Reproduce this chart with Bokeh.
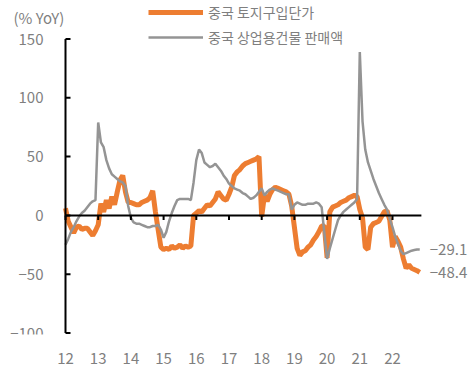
from bokeh.plotting import figure
from bokeh.models import (ColumnDataSource, FixedTicker, Legend, LegendItem, Label)
from bokeh.core.properties import value
from bokeh.embed import file_html
from bokeh.resources import INLINE

# Monthly data, Jan 2012 - Nov 2022 (% YoY)
land_price = [
    # 2012
    6, -5, -10, -15, -10, -9, -12, -11, -11, -14, -17, -13,
    # 2013
    -8, 10, 3, 13, 6, 16, 9, 20, 30, 34, 20, 11,
    # 2014
    11, 10, 9, 9, 11, 12, 13, 15, 21, 3, -12, -27,
    # 2015
    -29, -28, -29, -26, -28, -27, -25, -28, -26, -27, -26, 0,
    # 2016
    2, 4, 3, 6, 9, 8, 11, 14, 20, 17, 14, 13,
    # 2017
    18, 24, 34, 37, 39, 42, 44, 45, 46, 47, 48, 50,
    # 2018
    -1, 17, 12, 18, 22, 24, 23, 22, 21, 20, 18, 8,
    # 2019
    -10, -28, -34, -31, -30, -27, -25, -21, -18, -14, -9, -9,
    # 2020
    -36, 3, 7, 8, 9, 11, 12, 13, 15, 16, 17, 16,
    # 2021
    5, -2, -27, -29, -10, -7, -6, -5, -1, 3, 4, -4,
    # 2022
    -27, -18, -22, -27, -37, -45, -42, -45, -46, -47, -48.4,
]
commercial_sales = [
    # 2012
    -25, -20, -14, -10, -5, -1, 2, 4, 7, 10, 12, 13,
    # 2013
    79, 62, 58, 47, 40, 35, 33, 31, 29, 28, 25, 8,
    # 2014
    -2, -6, -7, -7, -8, -9, -10, -10, -9, -9, -8, -12,
    # 2015
    -19, -14, -5, 2, 8, 13, 14, 14, 14, 14, 13, 28,
    # 2016
    47, 56, 53, 45, 43, 41, 42, 44, 41, 38, 34, 31,
    # 2017
    27, 25, 23, 22, 21, 19, 18, 16, 14, 15, 17, 20,
    # 2018
    23, 17, 20, 22, 23, 22, 21, 20, 19, 18, 18, 5,
    # 2019
    9, 11, 10, 9, 9, 10, 10, 10, 11, 10, 7, -15,
    # 2020
    -37, -28, -20, -12, -4, 0, 3, 5, 7, 9, 11, 14,
    # 2021
    139, 80, 56, 45, 38, 31, 25, 19, 14, 9, 5, -3,
    # 2022
    -10, -18, -24, -30, -33, -32, -31, -30, -29.5, -29, -29.1,
]
tick_years = [2012, 2013, 2014, 2015, 2016, 2017, 2018, 2019, 2020, 2021, 2022]
tick_labels = ["12", "13", "14", "15", "16", "17", "18", "19", "20", "21", "22"]
y_ticks = [-100, -50, 0, 50, 100, 150]
series_names = ["중국 토지구입단가", "중국 상업용건물 판매액"]
unit_label = "(% YoY)"

start_year = 2012
n = len(land_price)
t = [start_year + i / 12 for i in range(n)]

ORANGE = "#ED7D31"
GRAY = "#949494"
TEXT = "#7F7F7F"
FONT = "Noto Sans CJK KR"

# layout constants (pixels)
W, H = 474, 378
BOTTOM = 44
FRAME_H = H - BOTTOM
AX_PX = 65          # pixel position of the y axis
PX_PER_YEAR = 32.7
Y_TOP_PX = 38.5     # pixel position of y=150
PX_PER_UNIT = 1.176

x_start = start_year - AX_PX / PX_PER_YEAR
x_end = start_year + (W - AX_PX) / PX_PER_YEAR
y_top = y_ticks[-1] + Y_TOP_PX / PX_PER_UNIT
y_bot = y_top - FRAME_H / PX_PER_UNIT

p = figure(width=W, height=H, output_backend="svg", toolbar_location=None,
           x_range=(x_start, x_end), y_range=(y_bot, y_top),
           y_axis_location=None,
           min_border_left=0, min_border_right=0, min_border_top=0,
           min_border_bottom=BOTTOM)
p.outline_line_color = None
p.xgrid.visible = False
p.ygrid.visible = False
p.background_fill_color = "white"
p.border_fill_color = "white"

src = ColumnDataSource(dict(t=t, land=land_price, sales=commercial_sales))
r1 = p.line("t", "land", source=src, line_color=ORANGE, line_width=5)
r2 = p.line("t", "sales", source=src, line_color=GRAY, line_width=2.5)

# y axis line, ticks and labels
p.segment(x0=[start_year], y0=[y_ticks[0]], x1=[start_year], y1=[y_ticks[-1]],
          line_color="black", line_width=2)
tick_len = 5 / PX_PER_YEAR
p.segment(x0=[start_year] * len(y_ticks), y0=y_ticks,
          x1=[start_year + tick_len] * len(y_ticks), y1=y_ticks,
          line_color="black", line_width=2)
p.text(x=[start_year] * len(y_ticks), y=y_ticks,
       text=[str(v).replace("-", "\u2212") for v in y_ticks],
       x_offset=-22, text_align="right", text_baseline="middle",
       text_font=value(FONT), text_font_size="15px", text_color=TEXT)

# zero line with its ticks
x_line_end = t[-1] + 0.05
p.segment(x0=[start_year], y0=[0], x1=[x_line_end], y1=[0],
          line_color="black", line_width=2)
tick_down = 4.5 / PX_PER_UNIT
p.segment(x0=tick_years, y0=[0] * len(tick_years), x1=tick_years,
          y1=[-tick_down] * len(tick_years), line_color="black", line_width=2)

# x axis (labels only)
xa = p.xaxis[0]
xa.ticker = FixedTicker(ticks=tick_years)
xa.major_label_overrides = {y: lab for y, lab in zip(tick_years, tick_labels)}
xa.axis_line_color = None
xa.major_tick_line_color = None
xa.minor_tick_line_color = None
xa.major_label_standoff = 12
xa.major_label_text_font = FONT
xa.major_label_text_font_size = "15px"
xa.major_label_text_color = TEXT

# legend
legend = Legend(items=[LegendItem(label=series_names[0], renderers=[r1]),
                       LegendItem(label=series_names[1], renderers=[r2])],
                location=(148, FRAME_H - 47), orientation="vertical",
                glyph_width=55, glyph_height=20, spacing=5, label_standoff=5,
                padding=0, margin=0, border_line_color=None,
                background_fill_alpha=0,
                label_text_font=FONT, label_text_font_size="14px",
                label_text_color=TEXT)
p.add_layout(legend, "center")

# unit label
p.add_layout(Label(x=13, y=FRAME_H - 17, x_units="screen", y_units="screen",
                   text=unit_label, text_font=FONT, text_font_size="15px",
                   text_color=TEXT, text_baseline="middle", text_align="left"))

# end value labels
for vals in (commercial_sales, land_price):
    p.add_layout(Label(x=t[-1], y=vals[-1], x_offset=10,
                       text=f"{vals[-1]:.1f}".replace("-", "\u2212"),
                       text_font=FONT, text_font_size="15px", text_color=TEXT,
                       text_baseline="middle", text_align="left"))

open("out.html", "w").write(file_html(p, INLINE))
